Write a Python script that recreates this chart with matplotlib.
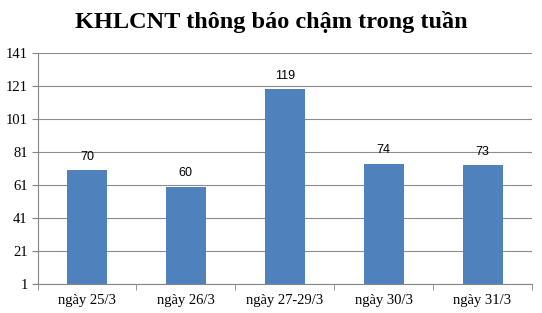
import matplotlib
matplotlib.use("Agg")
import matplotlib.pyplot as plt
from matplotlib.ticker import FixedLocator

categories = ["ngày 25/3", "ngày 26/3", "ngày 27-29/3", "ngày 30/3", "ngày 31/3"]
values = [70, 60, 119, 74, 73]
yticks = [1, 21, 41, 61, 81, 101, 121, 141]

fig = plt.figure(figsize=(5.42, 3.13), dpi=100)
ax = fig.add_axes([37.5/542, 1 - 284/313, 494.5/542, 231/313])

x = list(range(len(categories)))
ax.bar(x, values, width=0.405, color="#4F81BD", zorder=3)
for xi, v in zip(x, values):
    ax.annotate(str(v), (xi, v), xytext=(0, 9.5), textcoords="offset points",
                ha="center", va="center", fontsize=9,
                family="Liberation Sans", color="#000000")

ax.set_xlim(-0.5, len(categories) - 0.5)
ax.set_ylim(1, 141)
ax.set_yticks(yticks)
ax.set_yticklabels([str(t) for t in yticks], family="Liberation Serif", fontsize=10.5)
ax.yaxis.grid(True, color="#8C8C8C", linewidth=0.8, zorder=0)
ax.set_xticks(x)
ax.set_xticklabels(categories, family="Liberation Serif", fontsize=10.5)
ax.tick_params(axis="x", length=0, pad=7)
ax.xaxis.set_minor_locator(FixedLocator([i - 0.5 for i in range(len(categories) + 1)]))
ax.tick_params(axis="x", which="minor", length=4, color="#868686")
ax.tick_params(axis="y", length=4, color="#868686", pad=3)
for s in ["top", "right"]:
    ax.spines[s].set_visible(False)
ax.spines["left"].set_color("#868686")
ax.spines["bottom"].set_color("#868686")

fig.text(0.5, 1 - 22/313, "KHLCNT thông báo chậm trong tuần", family="Liberation Serif",
         fontweight="bold", fontsize=17.5, ha="center", va="center")

fig.savefig("out.png", dpi=100)
